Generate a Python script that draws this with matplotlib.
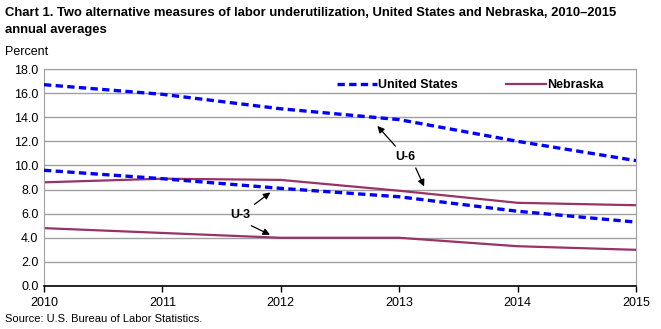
import matplotlib.pyplot as plt
import matplotlib.font_manager as fm

# ----------------------------
# Data (annual averages, percent)
# ----------------------------
years = [2010, 2011, 2012, 2013, 2014, 2015]
us_u6 = [16.7, 15.9, 14.7, 13.8, 12.0, 10.4]
us_u3 = [9.6, 8.9, 8.1, 7.4, 6.2, 5.3]
ne_u6 = [8.6, 8.9, 8.8, 7.9, 6.9, 6.7]
ne_u3 = [4.8, 4.4, 4.0, 4.0, 3.3, 3.0]
y_ticks = [0, 2, 4, 6, 8, 10, 12, 14, 16, 18]

US_COLOR = "#0000FF"
NE_COLOR = "#993366"

names = {f.name for f in fm.fontManager.ttflist}
narrow = "Liberation Sans Narrow" in names
title_font = "Liberation Sans Narrow" if narrow else "Liberation Sans"
title_size = 10.5 if narrow else 9.4
plt.rcParams["font.family"] = ["Liberation Sans", "DejaVu Sans"]

fig = plt.figure(figsize=(6.61, 3.29), dpi=100)
ax = fig.add_axes([44 / 661, 1 - 286 / 329, 592 / 661, 217 / 329])

ax.plot(years, us_u6, color=US_COLOR, lw=2.4, ls=(0, (2.2, 1.3)), label="United States", zorder=3)
ax.plot(years, us_u3, color=US_COLOR, lw=2.4, ls=(0, (2.2, 1.3)), zorder=3)
ax.plot(years, ne_u6, color=NE_COLOR, lw=1.6, label="Nebraska", zorder=2)
ax.plot(years, ne_u3, color=NE_COLOR, lw=1.6, zorder=2)

ax.set_xlim(2010, 2015)
ax.set_ylim(0, 18)
ax.set_xticks(years)
ax.set_xticklabels([str(y) for y in years], fontsize=9)
ax.set_yticks(y_ticks)
ax.set_yticklabels([f"{v:.1f}" for v in y_ticks], fontsize=9)
ax.tick_params(axis="y", length=0, pad=4)
ax.tick_params(axis="x", length=4, width=1, direction="out", color="black", pad=4)
ax.grid(axis="y", color="#A0A0A0", lw=1)
ax.set_axisbelow(True)
for side in ["top", "right", "left"]:
    ax.spines[side].set_color("#A0A0A0")
ax.spines["bottom"].set_color("black")
ax.spines["bottom"].set_linewidth(1.2)

ax.legend(loc="upper right", bbox_to_anchor=(0.965, 1.005), ncol=2, frameon=False,
          handlelength=3.2, handletextpad=0.15, columnspacing=3.8,
          prop={"weight": "bold", "size": 9})

# measure labels with arrows
arrow = dict(arrowstyle="-|>", color="black", lw=0.9, mutation_scale=10)
ax.annotate("U-6", xy=(2012.80, 13.45), xytext=(2013.05, 10.7), ha="center", va="center",
            fontsize=9, fontweight="bold", arrowprops=arrow)
ax.annotate("", xy=(2013.22, 8.05), xytext=(2013.13, 10.0), arrowprops=arrow)
ax.annotate("U-3", xy=(2011.93, 7.9), xytext=(2011.66, 5.9), ha="center", va="center",
            fontsize=9, fontweight="bold", arrowprops=arrow)
ax.annotate("", xy=(2011.93, 4.15), xytext=(2011.73, 5.1), arrowprops=arrow)

fig.text(5 / 661, 1 - 13 / 329, "Chart 1. Two alternative measures of labor underutilization, United States and Nebraska, 2010\u20132015",
         fontsize=title_size, fontweight="bold", family=title_font, va="center")
fig.text(5 / 661, 1 - 30 / 329, "annual averages",
         fontsize=title_size, fontweight="bold", family=title_font, va="center")
fig.text(5 / 661, 1 - 52 / 329, "Percent", fontsize=9, family=title_font, va="center")
fig.text(5 / 661, 1 - 319 / 329, "Source: U.S. Bureau of Labor Statistics.", fontsize=8, va="center")

fig.savefig("out.png", dpi=100)
